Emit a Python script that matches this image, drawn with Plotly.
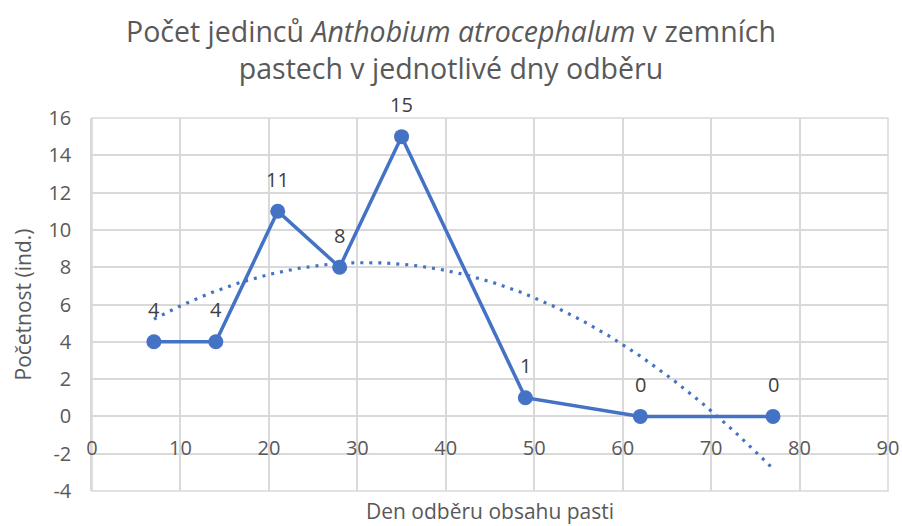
import numpy as np
import plotly.graph_objects as go

days = [7, 14, 21, 28, 35, 49, 62, 77]
counts = [4, 4, 11, 8, 15, 1, 0, 0]
x_ticks = [0, 10, 20, 30, 40, 50, 60, 70, 80, 90]
y_ticks = [-4, -2, 0, 2, 4, 6, 8, 10, 12, 14, 16]

BLUE = "#4472C4"
GRAY = "#595959"
FONT = "Open Sans"

# polynomial (order 2) trend line fitted to the data
coef2 = np.polyfit(days, counts, 2)
tx = np.linspace(min(days), max(days), 200)
ty = np.polyval(coef2, tx)

fig = go.Figure()
fig.add_trace(go.Scatter(x=tx, y=ty, mode="lines",
                         line=dict(color=BLUE, width=3.2, dash="3px,6px"),
                         hoverinfo="skip", showlegend=False))
fig.add_trace(go.Scatter(x=days, y=counts, mode="lines+markers",
                         line=dict(color=BLUE, width=3.5),
                         marker=dict(color=BLUE, size=15),
                         showlegend=False))

annotations = []
for d, c in zip(days, counts):
    annotations.append(dict(x=d, y=c, xref="x", yref="y", text=str(c),
                            showarrow=False, yshift=32,
                            font=dict(family=FONT, size=20, color="#404040")))
annotations.append(dict(x=0.5, y=0, xref="paper", yref="paper",
                        text="Den odběru obsahu pasti", showarrow=False,
                        yshift=-20, yanchor="middle",
                        font=dict(family=FONT, size=21, color=GRAY)))
annotations.append(dict(x=0, y=0.5, xref="paper", yref="paper",
                        text="Početnost (ind.)", showarrow=False,
                        textangle=-90, xshift=-70, xanchor="center",
                        font=dict(family=FONT, size=21, color=GRAY)))

fig.update_layout(
    width=902, height=526,
    margin=dict(l=92, r=14, t=118, b=35, autoexpand=False),
    paper_bgcolor="white", plot_bgcolor="white",
    title=dict(text="Počet jedinců <i>Anthobium atrocephalum</i> v zemních<br>pastech v jednotlivé dny odběru",
               x=0.5, xanchor="center", y=0.92, yanchor="middle",
               font=dict(family=FONT, size=28.5, color=GRAY)),
    xaxis=dict(range=[0, 90], tickvals=x_ticks, ticktext=[str(v) for v in x_ticks],
               showgrid=True, gridcolor="#D9D9D9", gridwidth=1.5,
               zeroline=False, showline=True, linecolor="#D9D9D9", linewidth=1.5,
               anchor="free", position=0.2, layer="below traces",
               automargin=False, ticklabeloverflow="allow",
               ticks="outside", ticklen=14, tickcolor="rgba(0,0,0,0)",
               tickfont=dict(family=FONT, size=20, color=GRAY)),
    yaxis=dict(range=[-4, 16], tickvals=y_ticks, ticktext=[str(v) for v in y_ticks],
               showgrid=True, gridcolor="#D9D9D9", gridwidth=1.5,
               zeroline=False, showline=True, linecolor="#D9D9D9", linewidth=1.5,
               layer="below traces", automargin=False,
               ticks="outside", ticklen=15, tickcolor="rgba(0,0,0,0)",
               tickfont=dict(family=FONT, size=20, color=GRAY)),
    annotations=annotations,
)
fig.add_shape(type="rect", xref="paper", yref="paper", x0=0, y0=0, x1=1, y1=1,
              line=dict(color="#D9D9D9", width=1.5), layer="below")

fig.write_html("out.html", config={"displayModeBar": False},
               post_script="document.body.style.margin='0';document.body.style.overflow='hidden';")
